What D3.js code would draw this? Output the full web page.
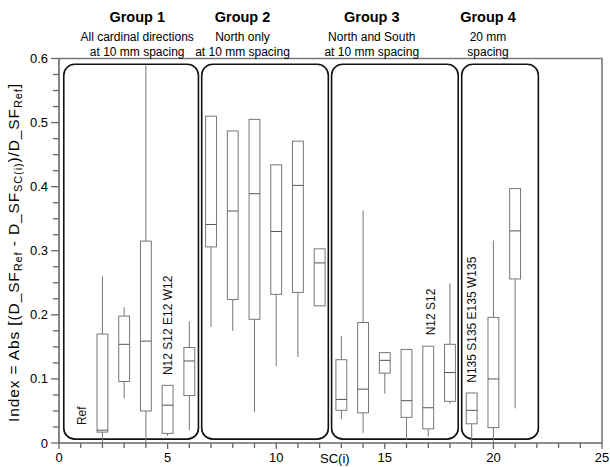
<!DOCTYPE html>
<html><head><meta charset="utf-8">
<script src="https://cdn.jsdelivr.net/npm/d3@7"></script>
<style>body{margin:0;background:#fff}svg{display:block}</style>
</head><body>
<svg id="c" width="610" height="467"></svg>
<script>
// ---- data ----
const positions   = [2, 3, 4, 5, 6, 7, 8, 9, 10, 11, 12, 13, 14, 15, 16, 17, 18, 19, 20, 21];
const whiskerLow  = [0.000, 0.070, 0.000, 0.011, 0.020, 0.181, 0.175, 0.048, 0.120, 0.134, 0.214, 0.037, 0.016, 0.077, 0.005, 0.010, 0.061, 0.000, 0.000, 0.054];
const q1          = [0.017, 0.096, 0.050, 0.015, 0.074, 0.306, 0.224, 0.193, 0.232, 0.235, 0.214, 0.051, 0.047, 0.109, 0.040, 0.022, 0.065, 0.030, 0.024, 0.256];
const median      = [0.020, 0.154, 0.159, 0.059, 0.128, 0.341, 0.362, 0.389, 0.330, 0.402, 0.281, 0.068, 0.084, 0.129, 0.066, 0.055, 0.110, 0.051, 0.100, 0.331];
const q3          = [0.170, 0.198, 0.315, 0.090, 0.149, 0.510, 0.487, 0.505, 0.434, 0.471, 0.303, 0.130, 0.188, 0.141, 0.146, 0.151, 0.154, 0.078, 0.196, 0.397];
const whiskerHigh = [0.260, 0.212, 0.589, 0.090, 0.190, 0.510, 0.487, 0.505, 0.434, 0.471, 0.303, 0.167, 0.363, 0.141, 0.146, 0.151, 0.249, 0.078, 0.316, 0.397];

const groupNames = ["Group 1", "Group 2", "Group 3", "Group 4"];
const groupSub1  = ["All cardinal directions", "North only", "North and South", "20 mm"];
const groupSub2  = ["at 10 mm spacing", "at 10 mm spacing", "at 10 mm spacing", "spacing"];
const groupTitleX = [3.6, 8.45, 14.4, 19.75];
const groupStart = [0.22, 6.57, 12.55, 18.54];
const groupEnd   = [6.42, 12.40, 18.38, 22.07];
const groupTop = 0.591, groupBottom = 0.006;

const annotations = ["Ref", "N12 S12 E12 W12", "N12 S12", "N135 S135 E135 W135"];
const annotX = [1.05, 5, 17.1, 19];
const annotY = [0.028, 0.106, 0.168, 0.094];

const xMajor = [0, 5, 10, 15, 20, 25];
const xMinor = d3.range(0, 26, 1);
const yMajor = [0, 0.1, 0.2, 0.3, 0.4, 0.5, 0.6];
const yMinor = d3.range(0, 0.6001, 0.025);
const yTickLabels = ["0", "0.1", "0.2", "0.3", "0.4", "0.5", "0.6"];

// ---- drawing ----
const svg = d3.select("#c");
const FONT = "'Liberation Sans', Arial, Helvetica, sans-serif";
const x = d3.scaleLinear().domain([0, 25]).range([59, 602]);
const y = d3.scaleLinear().domain([0, 0.6]).range([443, 58.5]);
const boxW = x(0.5) - x(0);

// frame (top and right)
svg.append("path")
  .attr("d", `M${x(0)},${y(0.6)}H${x(25)}V${y(0)}`)
  .attr("fill", "none").attr("stroke", "#777").attr("stroke-width", 1.6);

// group rounded rects
groupNames.forEach((g, i) => {
  svg.append("rect")
    .attr("x", x(groupStart[i])).attr("y", y(groupTop))
    .attr("width", x(groupEnd[i]) - x(groupStart[i]))
    .attr("height", y(groupBottom) - y(groupTop))
    .attr("rx", 11).attr("ry", 11)
    .attr("fill", "none").attr("stroke", "#111").attr("stroke-width", 1.6);
  svg.append("text").attr("x", x(groupTitleX[i])).attr("y", 22)
    .attr("text-anchor", "middle").attr("font-family", FONT)
    .attr("font-size", 14.5).attr("font-weight", "bold").text(g);
  svg.append("text").attr("x", x(groupTitleX[i])).attr("y", 41)
    .attr("text-anchor", "middle").attr("font-family", FONT)
    .attr("font-size", 12).text(groupSub1[i]);
  svg.append("text").attr("x", x(groupTitleX[i])).attr("y", 56)
    .attr("text-anchor", "middle").attr("font-family", FONT)
    .attr("font-size", 12).text(groupSub2[i]);
});

// boxplots
const gBox = svg.append("g").attr("stroke", "#777").attr("stroke-width", 1).attr("fill", "none");
positions.forEach((p, i) => {
  const cx = x(p);
  if (whiskerHigh[i] > q3[i])
    gBox.append("line").attr("x1", cx).attr("x2", cx).attr("y1", y(q3[i])).attr("y2", y(whiskerHigh[i]));
  if (whiskerLow[i] < q1[i])
    gBox.append("line").attr("x1", cx).attr("x2", cx).attr("y1", y(q1[i])).attr("y2", y(whiskerLow[i]));
  gBox.append("rect").attr("x", cx - boxW / 2).attr("y", y(q3[i]))
    .attr("width", boxW).attr("height", y(q1[i]) - y(q3[i])).attr("fill", "#fff");
  gBox.append("line").attr("x1", cx - boxW / 2).attr("x2", cx + boxW / 2)
    .attr("y1", y(median[i])).attr("y2", y(median[i])).attr("stroke", "#555");
});

// annotations
annotations.forEach((a, i) => {
  svg.append("text")
    .attr("transform", `translate(${x(annotX[i]) + 4.5},${y(annotY[i])}) rotate(-90)`)
    .attr("font-family", FONT).attr("font-size", 12).attr("fill", "#111").text(a);
});

// axes
const ax = svg.append("g").attr("stroke", "#666").attr("stroke-width", 1.3);
ax.append("line").attr("x1", x(0)).attr("x2", x(25)).attr("y1", y(0)).attr("y2", y(0)).attr("stroke-width", 1.6);
ax.append("line").attr("x1", x(0)).attr("x2", x(0)).attr("y1", y(0)).attr("y2", y(0.6)).attr("stroke-width", 1.6);
xMinor.forEach(v => {
  ax.append("line").attr("x1", x(v)).attr("x2", x(v)).attr("y1", y(0)).attr("y2", y(0) + (xMajor.includes(v) ? 6 : 5));
});
yMinor.forEach(v => {
  const major = yMajor.some(m => Math.abs(m - v) < 1e-6);
  ax.append("line").attr("x1", x(0) - (major ? 8 : 6)).attr("x2", x(0)).attr("y1", y(v)).attr("y2", y(v));
});
xMajor.forEach(v => {
  svg.append("text").attr("x", x(v)).attr("y", 462).attr("text-anchor", "middle")
    .attr("font-family", FONT).attr("font-size", 13).text(v);
});
yMajor.forEach((v, i) => {
  svg.append("text").attr("x", x(0) - 11).attr("y", y(v) + 4.5).attr("text-anchor", "end")
    .attr("font-family", FONT).attr("font-size", 13).text(yTickLabels[i]);
});
svg.append("text").attr("x", x(12.7)).attr("y", 463).attr("text-anchor", "middle")
  .attr("font-family", FONT).attr("font-size", 13).text("SC(i)");

// y label with subscripts
const yl = svg.append("text").attr("transform", `translate(18.5,253) rotate(-90)`)
  .attr("text-anchor", "middle").attr("font-family", FONT).attr("font-size", 15.5);
const parts = [["Index = Abs [(D_SF", 0], ["Ref", 1], [" - D_SF", 0], ["SC(i)", 1], [")/D_SF", 0], ["Ref", 1], ["]", 0]];
parts.forEach(([t, sub]) => {
  const ts = yl.append("tspan").text(t);
  if (sub) ts.attr("font-size", 11).attr("baseline-shift", "-3");
});
const len = yl.node().getComputedTextLength();
if (len > 0) yl.attr("textLength", 338).attr("lengthAdjust", "spacing");
</script>
</body></html>
